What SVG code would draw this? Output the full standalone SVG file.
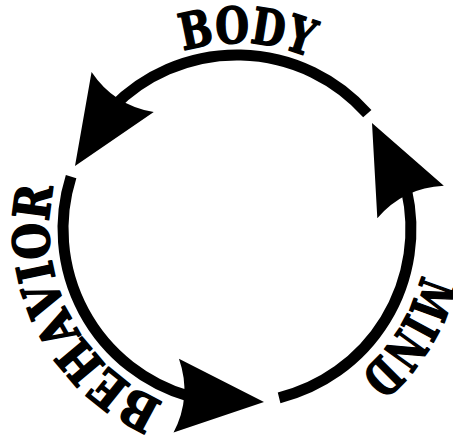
<svg xmlns="http://www.w3.org/2000/svg" xmlns:xlink="http://www.w3.org/1999/xlink" width="453" height="436" viewBox="0 0 453 436">
  <style>
    .arc { fill: none; stroke: #000; stroke-width: 11; stroke-linecap: butt; }
    .head { fill: #000; }
    .lbl { font-family: "DejaVu Serif", "Liberation Serif", serif; font-weight: bold; font-size: 50px; fill: #000; stroke: #000; stroke-width: 1.6; stroke-linejoin: round; }
  </style>
  <defs>
    <path id="ah" d="M0,0 L-88,-37 Q-72,0 -88,37 Z"/>
    <path id="p-body" d="M183.2,50.9 A186,186 0 0 1 411.8,165.4"/>
    <path id="p-behavior" d="M163.5,402.1 A188,188 0 0 1 143,66.2"/>
    <path id="p-mind" d="M421.4,275 A190,190 0 0 1 204,416.1"/>
  </defs>
  <rect width="453" height="436" fill="#fff"/>
  <g id="connectors">
    <path class="arc" d="M367.3,113.7 A174,174 0 0 0 111.8,108.1"/>
    <path class="arc" d="M71.1,176.7 A174,174 0 0 0 189,396.3"/>
    <path class="arc" d="M279.1,397.8 A174,174 0 0 0 406.5,189.9"/>
    <use class="head" href="#ah" transform="translate(75,166) rotate(122.8)"/>
    <use class="head" href="#ah" transform="translate(372,123) rotate(244)"/>
    <use class="head" href="#ah" transform="translate(264,402) rotate(4.2)"/>
  </g>
  <g id="body">
    <text class="lbl"><textPath href="#p-body" textLength="128" lengthAdjust="spacingAndGlyphs">BODY</textPath></text>
  </g>
  <g id="behavior">
    <text class="lbl"><textPath href="#p-behavior" textLength="262" lengthAdjust="spacingAndGlyphs">BEHAVIOR</textPath></text>
  </g>
  <g id="mind">
    <text class="lbl"><textPath href="#p-mind" textLength="119" lengthAdjust="spacingAndGlyphs">MIND</textPath></text>
  </g>
</svg>
